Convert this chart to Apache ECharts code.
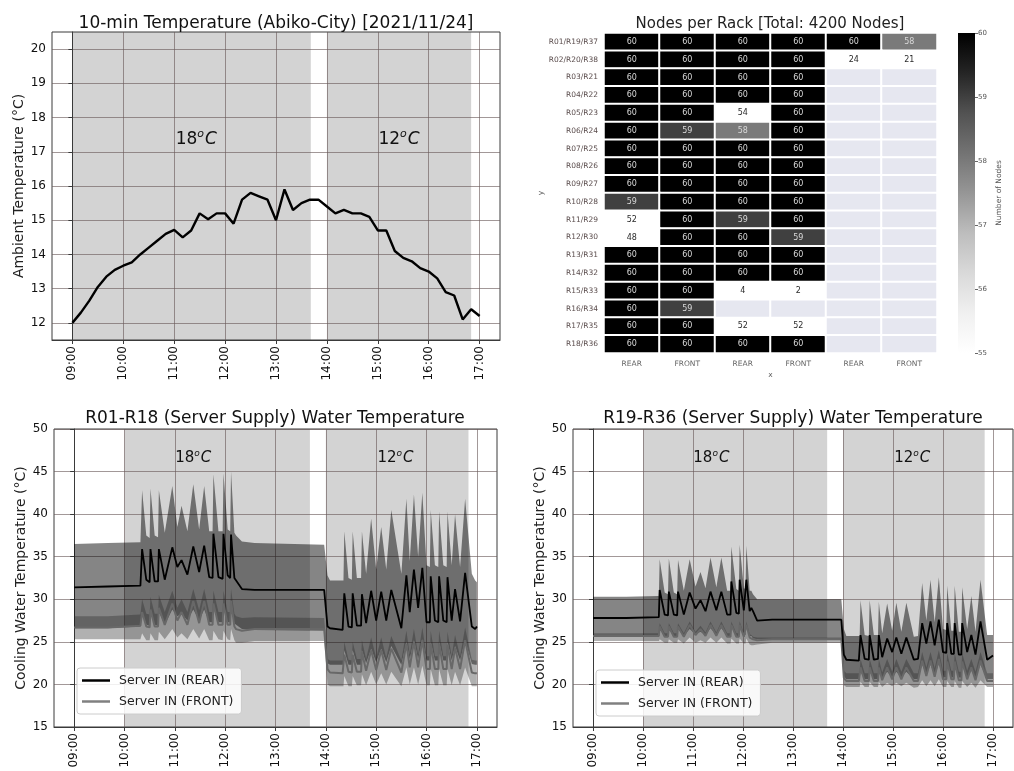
<!DOCTYPE html>
<html><head><meta charset="utf-8">
<script src="https://cdn.jsdelivr.net/npm/echarts@6/dist/echarts.min.js"></script>
<style>html,body{margin:0;padding:0;background:#fff}#c{width:1014px;height:771px}</style>
</head><body><div id="c"></div>
<script>
// ---------- Panel 1: ambient temperature (10-min) ----------
const tempTimes = [0,10,20,30,40,50,60,70,80,90,100,110,120,130,140,150,160,170,180,190,200,210,220,230,240,250,260,270,280,290,300,310,320,330,340,350,360,370,380,390,400,410,420,430,440,450,460,470,480];
const tempVals = [12.0,12.3,12.65,13.05,13.35,13.55,13.67,13.77,14.0,14.2,14.4,14.6,14.72,14.5,14.7,15.2,15.03,15.2,15.2,14.9,15.6,15.8,15.7,15.6,15.0,15.9,15.3,15.5,15.6,15.6,15.4,15.2,15.3,15.2,15.2,15.1,14.7,14.7,14.1,13.9,13.8,13.6,13.5,13.3,12.9,12.8,12.1,12.4,12.2];
const tempYTicks = [12,13,14,15,16,17,18,19,20];
const hourTicks = [0,60,120,180,240,300,360,420,480];
const shadeTop = [[0,281],[300,470]];
const shadeBottom = [[60,281],[300,470]];
const setLabels = ['18', '12'];
const setLabelPosTop = [[146,17.35],[385,17.35]];
const setLabelPosBottom = [[142,46.6],[383,46.6]];

// ---------- Panel 2: nodes per rack ----------
const rackRows = ['R01/R19/R37','R02/R20/R38','R03/R21','R04/R22','R05/R23','R06/R24','R07/R25','R08/R26','R09/R27','R10/R28','R11/R29','R12/R30','R13/R31','R14/R32','R15/R33','R16/R34','R17/R35','R18/R36'];
const rackCols = ['REAR','FRONT','REAR','FRONT','REAR','FRONT'];
const nodeCounts = [
 [60,60,60,60,60,58],
 [60,60,60,60,24,21],
 [60,60,60,60,null,null],
 [60,60,60,60,null,null],
 [60,60,54,60,null,null],
 [60,59,58,60,null,null],
 [60,60,60,60,null,null],
 [60,60,60,60,null,null],
 [60,60,60,60,null,null],
 [59,60,60,60,null,null],
 [52,60,59,60,null,null],
 [48,60,60,59,null,null],
 [60,60,60,60,null,null],
 [60,60,60,60,null,null],
 [60,60,4,2,null,null],
 [60,59,null,null,null,null],
 [60,60,52,52,null,null],
 [60,60,60,60,null,null]
];
const cbarRange = [55, 60];

// ---------- Panel 3: R01-R18 water temperature ----------
const p3T =        [0,40,79,81,86,90,91,96,100,101,108,117,123,128,135,142,149,155,161,165,166,172,177,178,183,186,187,191,193,200,215,298,302,305,320,321,322,327,331,332,337,342,343,348,354,360,366,372,378,390,396,400,405,410,415,420,424,425,430,434,435,440,444,445,450,454,460,466,474,478,480];
const p3RearMean = [31.4,31.5,31.6,35.9,32.3,32.0,35.9,32.1,32.1,35.9,32.3,36.1,33.8,34.6,32.9,36.2,33.2,36.3,32.6,32.5,37.7,32.6,32.4,37.7,32.8,32.5,37.6,32.5,32.6,31.2,31.1,31.1,26.8,26.6,26.4,26.5,30.7,26.8,26.7,30.7,26.9,26.9,30.6,27.2,31.0,27.5,30.9,27.5,31.1,26.6,32.8,28.5,33.5,29.0,33.7,27.3,27.3,32.7,27.5,27.3,32.7,27.5,27.3,32.6,27.5,31.2,27.4,33.1,26.8,26.5,26.8];
const p3RearHi =   [36.5,36.6,36.7,42.8,37.5,37.2,43.0,37.5,37.3,42.8,37.8,43.3,38.5,41.0,38.0,43.5,38.2,43.3,38.0,38.0,44.7,38.0,38.0,44.8,38.2,38.0,45.0,37.8,37.5,36.8,36.6,36.4,32.8,32.2,32.2,32.2,38.0,32.5,32.3,38.0,32.5,32.5,38.0,33.0,39.5,33.5,38.5,33.5,40.5,33.0,41.8,34.5,42.3,35.0,42.5,34.0,33.8,40.5,34.0,33.8,40.3,34.0,33.8,40.3,34.0,40.0,33.8,41.8,33.0,32.2,32.0];
const p3RearLo =   [26.6,26.6,26.8,28.5,27.0,26.9,28.5,27.0,26.9,28.5,27.0,28.8,28.0,28.3,27.5,28.8,27.5,28.8,27.3,27.3,29.0,27.3,27.3,29.0,27.3,27.3,29.0,27.2,27.0,26.5,26.4,26.3,22.5,22.3,22.3,22.3,24.0,22.3,22.3,24.0,22.3,22.3,24.0,22.5,24.2,22.6,24.2,22.6,24.5,22.3,25.0,23.0,25.2,23.0,25.3,22.8,22.8,25.0,22.8,22.8,25.0,22.8,22.8,25.0,22.8,24.5,22.8,25.2,22.4,22.3,22.3];
const p3FrontMean =[26.7,26.7,26.9,28.5,26.8,26.7,28.8,26.8,26.8,29.0,27.0,29.5,27.5,28.5,27.0,29.8,27.2,29.8,27.0,27.0,29.5,27.0,27.0,29.5,27.0,27.0,29.8,26.8,26.5,26.3,26.5,26.5,21.8,21.4,21.3,21.3,23.5,21.5,21.4,23.5,21.5,21.5,23.8,21.6,24.0,21.7,24.0,21.7,24.2,21.4,24.8,22.0,25.0,22.0,25.2,21.8,21.8,24.8,21.8,21.8,24.8,21.8,21.8,24.7,21.8,24.3,21.8,25.2,21.4,21.3,21.3];
const p3FrontHi =  [28.0,28.0,28.2,30.0,28.3,28.2,30.3,28.3,28.3,30.5,28.5,31.0,29.0,30.0,28.5,31.2,28.7,31.2,28.5,28.5,31.0,28.5,28.5,31.0,28.5,28.5,31.2,28.3,28.0,27.8,27.9,27.8,23.0,22.8,22.8,22.8,25.0,22.9,22.8,25.0,23.0,23.0,25.2,23.0,25.5,23.1,25.5,23.1,25.7,22.8,26.3,23.5,26.5,23.5,26.7,23.3,23.3,26.3,23.3,23.3,26.3,23.3,23.3,26.2,23.3,25.8,23.3,26.7,22.9,22.8,22.8];
const p3FrontLo =  [25.3,25.3,25.3,26.0,25.2,25.2,26.0,25.2,25.2,26.2,25.3,26.5,25.5,26.0,25.3,26.5,25.4,26.5,25.2,25.2,26.3,25.3,25.2,26.3,25.3,25.2,26.5,25.2,24.9,24.9,25.1,25.1,20.0,19.8,19.8,19.8,21.0,19.8,19.8,21.0,19.9,19.9,21.2,19.9,21.5,20.0,21.3,20.0,21.5,19.8,22.0,20.0,22.0,20.0,22.2,19.9,19.9,21.8,19.9,19.9,21.8,19.9,19.9,21.8,19.9,21.5,19.9,22.0,19.8,19.8,19.8];

// ---------- Panel 4: R19-R36 water temperature ----------
const p4T =        [0,40,79,80,86,90,91,97,101,102,109,116,123,129,135,141,148,154,161,165,166,172,175,176,181,183,184,188,190,192,197,215,298,301,304,319,320,321,326,331,332,337,342,343,347,353,359,364,370,376,385,390,395,400,405,410,415,420,424,425,430,433,434,439,442,443,449,454,459,465,473,480];
const p4RearMean = [27.8,27.8,27.9,31.1,28.2,28.1,30.9,28.2,28.1,30.9,28.2,30.8,28.9,29.9,28.6,30.9,28.7,30.9,28.2,28.2,32.1,28.4,28.3,32.3,28.7,28.6,32.3,28.6,29.0,28.6,27.5,27.6,27.6,23.5,22.9,22.8,22.8,25.8,23.0,22.9,25.8,22.9,23.0,25.8,23.2,25.4,23.8,25.5,23.6,25.5,22.9,23.0,27.2,24.8,27.4,24.6,27.6,23.8,23.7,27.2,23.6,23.6,27.2,23.5,23.5,27.2,23.8,25.8,23.5,27.4,22.9,23.4];
const p4RearHi =   [30.3,30.3,30.4,34.7,30.8,30.6,34.8,30.8,30.6,34.6,31.0,34.7,31.5,33.2,31.3,34.9,31.4,34.9,31.0,31.0,36.2,31.2,31.0,36.4,31.3,31.2,36.3,31.0,31.0,30.6,30.0,30.0,30.0,26.5,25.7,25.7,25.7,29.9,25.8,25.7,29.9,25.8,25.8,29.7,26.0,29.5,26.3,29.6,26.2,29.6,25.6,25.7,31.9,27.5,32.3,27.3,32.6,26.5,26.4,31.6,26.3,26.3,31.6,26.2,26.2,31.4,26.5,30.4,26.2,32.3,25.8,25.8];
const p4RearLo =   [25.7,25.7,25.7,26.5,25.7,25.7,26.5,25.7,25.7,26.5,25.7,26.5,25.9,26.2,25.8,26.6,25.8,26.6,25.7,25.7,26.8,25.7,25.7,26.8,25.8,25.8,26.8,25.7,25.7,25.4,25.3,25.3,25.3,21.0,20.6,20.6,20.6,21.5,20.6,20.6,21.5,20.6,20.6,21.5,20.7,21.5,20.8,21.5,20.8,21.5,20.6,20.6,22.3,21.2,22.3,21.1,22.4,20.8,20.8,22.2,20.8,20.8,22.2,20.8,20.8,22.2,20.8,21.6,20.8,22.3,20.6,20.6];
const p4FrontMean =[25.7,25.7,25.7,26.8,25.6,25.6,26.8,25.6,25.6,26.8,25.6,27.0,25.8,26.5,25.7,27.0,25.7,27.0,25.6,25.6,27.0,25.6,25.6,27.0,25.6,25.6,27.0,25.5,25.4,25.3,25.2,25.3,25.3,20.8,20.4,20.4,20.4,22.0,20.4,20.4,22.0,20.4,20.4,22.0,20.5,22.0,20.6,22.0,20.6,22.0,20.4,20.4,22.8,21.0,22.8,20.9,23.0,20.6,20.6,22.7,20.6,20.6,22.7,20.5,20.5,22.7,20.6,22.0,20.5,22.8,20.4,20.4];
const p4FrontHi =  [26.0,26.0,26.0,27.2,26.0,26.0,27.2,26.0,26.0,27.2,26.0,27.4,26.2,26.9,26.1,27.4,26.1,27.4,26.0,26.0,27.4,26.0,26.0,27.4,26.0,26.0,27.4,25.9,25.8,25.6,25.5,25.5,25.5,21.6,21.3,21.3,21.3,23.0,21.3,21.3,23.0,21.3,21.3,23.0,21.4,23.0,21.5,23.0,21.5,23.0,21.3,21.3,23.8,22.0,23.8,21.9,24.0,21.6,21.6,23.7,21.6,21.6,23.7,21.5,21.5,23.7,21.6,23.0,21.5,23.8,21.3,21.3];
const p4FrontLo =  [25.1,25.1,25.1,25.3,24.9,24.9,25.3,24.9,24.9,25.3,24.8,25.5,24.9,25.2,24.9,25.5,24.9,25.5,24.8,24.8,25.4,24.8,24.8,25.4,24.8,24.8,25.4,24.7,24.6,24.6,24.7,24.9,24.9,19.9,19.7,19.7,19.7,20.3,19.7,19.7,20.3,19.7,19.7,20.3,19.7,20.2,19.8,20.2,19.8,20.2,19.6,19.7,20.5,19.8,20.5,19.8,20.6,19.7,19.7,20.4,19.7,19.7,20.4,19.6,19.6,20.4,19.7,20.2,19.6,20.5,19.7,19.7];

// ---------- styling ----------
const FONT = 'DejaVu Sans';
const GRIDC = 'rgba(105,88,88,0.62)';
const FRAME = '#3a3a3a';
const SHADE = '#d3d3d3';
const GREYS = ['#ffffff','#f0f0f0','#d9d9d9','#bdbdbd','#969696','#737373','#525252','#252525','#000000'];

function fmtTime(v){ const h = 9 + Math.floor(v/60), m = v % 60; return (h<10?'0':'')+h+':'+(m<10?'0':'')+m; }
function pairs(t, v){ return t.map((x,i)=>[x, v[i]]); }

function timeAxis(gi){
  return {type:'value', gridIndex:gi, min:-24, max:504,
    axisLine:{show:true, onZero:false, lineStyle:{color:FRAME}},
    axisTick:{show:true, customValues:hourTicks, length:4, lineStyle:{color:FRAME}},
    axisLabel:{customValues:hourTicks, formatter:fmtTime, rotate:90, fontSize:12, color:'#111', fontFamily:FONT, margin:6},
    splitLine:{show:true, lineStyle:{color:GRIDC, width:1}}};
}
function richFor(fs){
  const ss = Math.round(fs*0.62);
  return {a:{fontSize:fs, fontFamily:FONT, color:'#111'},
          s:{fontSize:ss, lineHeight:ss, fontFamily:FONT, fontStyle:'italic', color:'#111', padding:[0,1,Math.round(fs*0.62),0]},
          b:{fontSize:fs, fontFamily:FONT, fontStyle:'italic', color:'#111'}};
}

function shadeSeries(gi, spans, labPos, fs){
  return {type:'line', xAxisIndex:gi, yAxisIndex:gi, data:[], silent:true, z:-1,
    markArea:{silent:true, z:-1, itemStyle:{color:SHADE}, data: spans.map(s=>[{xAxis:s[0]},{xAxis:s[1]}])},
    markPoint:{silent:true, symbol:'circle', symbolSize:1, itemStyle:{color:'rgba(0,0,0,0)'},
      label:{show:true, position:'inside', rich:richFor(fs)},
      data: labPos.map((p,i)=>({coord:p, label:{formatter:'{a|'+setLabels[i]+'}{s|o}{b|C}'}}))}};
}

// band between lo and hi, drawn as one polygon through the axis scales
function bandSeries(gi, T, hi, lo, color){
  return {type:'custom', xAxisIndex:gi, yAxisIndex:gi, silent:true, data:[[T[0], lo[0]]],
    renderItem:(params, api)=>{
      const pts = [];
      for (let i=0;i<T.length;i++) pts.push(api.coord([T[i], lo[i]]));
      for (let i=T.length-1;i>=0;i--) pts.push(api.coord([T[i], hi[i]]));
      return {type:'polygon', shape:{points:pts}, style:{fill:color}};
    }};
}

function waterSeries(gi, T, rM, rH, rL, fM, fH, fL){
  return [
    bandSeries(gi, T, rH, rL, 'rgba(0,0,0,0.48)'),
    bandSeries(gi, T, fH, fL, 'rgba(40,40,40,0.36)'),
    {type:'line', name:'Server IN (FRONT)', xAxisIndex:gi, yAxisIndex:gi, symbol:'none', data:pairs(T, fM), lineStyle:{color:'#686868', width:2}, itemStyle:{color:'#808080'}},
    {type:'line', name:'Server IN (REAR)', xAxisIndex:gi, yAxisIndex:gi, symbol:'none', data:pairs(T, rM), lineStyle:{color:'#000', width:1.8}, itemStyle:{color:'#000'}}
  ];
}

// heatmap data
const heatData = [], missData = [];
nodeCounts.forEach((row, yi)=>row.forEach((v, xi)=>{
  if (v === null) missData.push([xi, yi, 0]);
  else heatData.push({value:[xi, yi, Math.max(v, cbarRange[0])], raw:v, label:{color: v >= 57 ? '#d8d8d8' : '#2a2a2a'}});
}));
const colKeys = rackCols.map((c,i)=>c+'#'+i);

const series = [];
series.push(shadeSeries(0, shadeTop, setLabelPosTop, 17));
series.push({type:'line', xAxisIndex:0, yAxisIndex:0, symbol:'none', data:pairs(tempTimes, tempVals), lineStyle:{color:'#000', width:2.4}});
const heatIdx = series.length;
series.push({type:'heatmap', xAxisIndex:1, yAxisIndex:1, data:heatData,
  itemStyle:{borderColor:'#fff', borderWidth:2},
  label:{show:true, fontSize:8, fontFamily:FONT, formatter:p=>String(p.data.raw)}});
series.push({type:'heatmap', xAxisIndex:1, yAxisIndex:1, data:missData, itemStyle:{color:'#e6e7f0', borderColor:'#fff', borderWidth:2}, label:{show:false}});
series.push(shadeSeries(2, shadeBottom, setLabelPosBottom, 15));
waterSeries(2, p3T, p3RearMean, p3RearHi, p3RearLo, p3FrontMean, p3FrontHi, p3FrontLo).forEach(s=>series.push(s));
series.push(shadeSeries(3, shadeBottom, setLabelPosBottom, 15));
waterSeries(3, p4T, p4RearMean, p4RearHi, p4RearLo, p4FrontMean, p4FrontHi, p4FrontLo).forEach(s=>series.push(s));
// colour bar drawn through its own axis scale
series.push({type:'custom', xAxisIndex:4, yAxisIndex:4, silent:true, data:[[0, cbarRange[0]]],
  renderItem:(params, api)=>{
    const p0 = api.coord([0, cbarRange[1]]), p1 = api.coord([1, cbarRange[0]]);
    return {type:'rect', shape:{x:p0[0], y:p0[1], width:p1[0]-p0[0], height:p1[1]-p0[1]},
      style:{fill:new echarts.graphic.LinearGradient(0,0,0,1, GREYS.slice().reverse().map((c,i,a)=>({offset:i/(a.length-1), color:c})))}};
  }});

function waterY(gi, nameGap){
  return {type:'value', gridIndex:gi, min:15, max:50, interval:5,
    axisLine:{show:true, lineStyle:{color:FRAME}}, axisTick:{show:true, length:4, lineStyle:{color:FRAME}},
    axisLabel:{fontSize:12, color:'#111', fontFamily:FONT, margin:6},
    splitLine:{show:true, lineStyle:{color:GRIDC}},
    name:'Cooling Water Temperature (°C)', nameLocation:'middle', nameGap:nameGap,
    nameTextStyle:{fontSize:14, color:'#222', fontFamily:FONT}};
}
function legendAt(left, top){
  return {show:true, orient:'vertical', left:left, top:top, data:['Server IN (REAR)','Server IN (FRONT)'],
    icon:'rect', itemWidth:28, itemHeight:2.5, itemGap:8, padding:[6,8,6,5],
    backgroundColor:'rgba(255,255,255,0.85)', borderColor:'#cccccc', borderWidth:1, borderRadius:3,
    textStyle:{fontSize:12.5, fontFamily:FONT, color:'#222', padding:[0,0,0,4]}, selectedMode:false};
}

const option = {
  animation:false,
  backgroundColor:'#ffffff',
  textStyle:{fontFamily:FONT},
  grid:[
    {left:52, top:32, width:448, height:308, show:true, borderColor:FRAME, borderWidth:1, backgroundColor:'transparent'},
    {left:604, top:33, width:333, height:320},
    {left:54, top:429, width:443, height:298, show:true, borderColor:FRAME, borderWidth:1, backgroundColor:'transparent'},
    {left:573, top:429, width:440, height:298, show:true, borderColor:FRAME, borderWidth:1, backgroundColor:'transparent'},
    {left:958, top:33, width:17, height:320}
  ],
  xAxis:[
    timeAxis(0),
    {type:'category', gridIndex:1, data:colKeys, axisLine:{show:false}, axisTick:{show:false},
      axisLabel:{formatter:v=>v.split('#')[0], fontSize:7.5, color:'#666', fontFamily:FONT, margin:7},
      name:'x', nameLocation:'middle', nameGap:18, nameTextStyle:{fontSize:7.5, color:'#666'}},
    timeAxis(2),
    timeAxis(3),
    {type:'value', gridIndex:4, show:false, min:0, max:1}
  ],
  yAxis:[
    {type:'value', gridIndex:0, min:11.5, max:20.5,
      axisLine:{show:true, lineStyle:{color:FRAME}}, axisTick:{show:true, customValues:tempYTicks, length:4, lineStyle:{color:FRAME}},
      axisLabel:{customValues:tempYTicks, fontSize:12, color:'#111', fontFamily:FONT, margin:6},
      splitLine:{show:true, lineStyle:{color:GRIDC}},
      name:'Ambient Temperature (°C)', nameLocation:'middle', nameGap:22,
      nameTextStyle:{fontSize:14, color:'#222', fontFamily:FONT}},
    {type:'category', gridIndex:1, data:rackRows, inverse:true, axisLine:{show:false}, axisTick:{show:false},
      axisLabel:{fontSize:7.5, color:'#5a4c4c', fontFamily:FONT, margin:6},
      name:'y', nameLocation:'middle', nameGap:58, nameRotate:90, nameTextStyle:{fontSize:7.5, color:'#666'}},
    waterY(2, 25),
    waterY(3, 26),
    {type:'value', gridIndex:4, position:'right', min:cbarRange[0], max:cbarRange[1], interval:1,
      axisLine:{show:false, onZero:false}, axisTick:{show:true, inside:false, length:3, lineStyle:{color:'#666'}},
      axisLabel:{fontSize:7, color:'#555', fontFamily:FONT, margin:3},
      splitLine:{show:false},
      name:'Number of Nodes', nameLocation:'middle', nameGap:20, nameRotate:90, nameTextStyle:{fontSize:7.5, color:'#555'}}
  ],
  visualMap:{type:'continuous', show:false, min:cbarRange[0], max:cbarRange[1], seriesIndex:heatIdx, dimension:2, inRange:{color:GREYS}},
  legend:[legendAt(77, 668), legendAt(596, 670)],
  graphic:[
    {type:'text', x:276, y:24, style:{text:'10-min Temperature (Abiko-City) [2021/11/24]', align:'center', verticalAlign:'middle', fontSize:17, fontFamily:FONT, fill:'#111'}},
    {type:'text', x:770, y:24, style:{text:'Nodes per Rack [Total: 4200 Nodes]', align:'center', verticalAlign:'middle', fontSize:15, fontFamily:FONT, fill:'#222'}},
    {type:'text', x:275, y:419, style:{text:'R01-R18 (Server Supply) Water Temperature', align:'center', verticalAlign:'middle', fontSize:17, fontFamily:FONT, fill:'#111'}},
    {type:'text', x:793, y:419, style:{text:'R19-R36 (Server Supply) Water Temperature', align:'center', verticalAlign:'middle', fontSize:17, fontFamily:FONT, fill:'#111'}}
  ],
  series:series
};
const chart = echarts.init(document.getElementById('c'), null, {renderer:'canvas'});
chart.setOption(option);
</script></body></html>
